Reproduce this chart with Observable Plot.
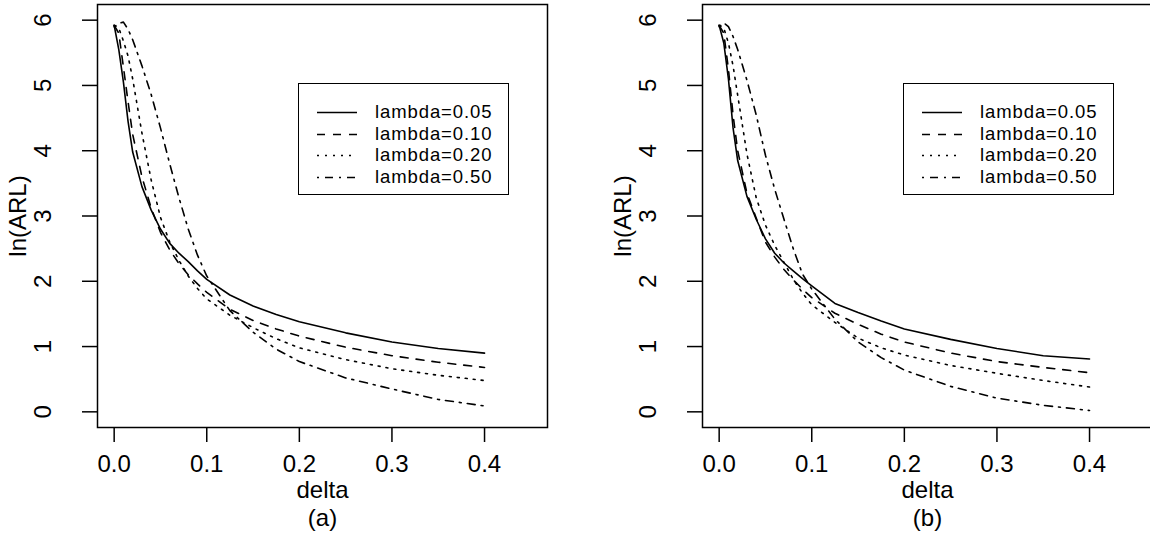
<!DOCTYPE html>
<html>
<head>
<meta charset="utf-8">
<script src="https://cdn.jsdelivr.net/npm/d3@7"></script>
<script src="https://cdn.jsdelivr.net/npm/@observablehq/plot@0.6"></script>
<style>
  html, body { margin: 0; padding: 0; background: #fff; overflow: hidden; }
  #wrap { position: relative; width: 1150px; height: 553px; overflow: hidden; background: #fff;
          font-family: "Liberation Sans", Arial, Helvetica, sans-serif; }
  .panel { position: absolute; top: 0; width: 605px; height: 553px; }
  .legend { position: absolute; box-sizing: border-box; border: 1.5px solid #000; background: #fff;
            width: 211px; height: 112px; padding-top: 17px; }
  .row { position: relative; height: 21.5px; line-height: 21.5px; font-size: 18.5px; letter-spacing: 0.9px; color: #000; }
  .row svg { position: absolute; left: 17px; top: 0; }
  .row span { position: absolute; display: block; left: 76px; top: 0; height: 21.5px; line-height: 21.5px;
              white-space: nowrap; }
</style>
</head>
<body>
<div id="wrap"></div>
<script>
// ---- data ----
const delta = [0, 0.005, 0.01, 0.015, 0.02, 0.03, 0.04, 0.05, 0.06, 0.07, 0.08, 0.09, 0.1, 0.125, 0.15, 0.175, 0.2, 0.25, 0.3, 0.35, 0.4];

const lambdaLabels = ["lambda=0.05", "lambda=0.10", "lambda=0.20", "lambda=0.50"];

// panel (a)
const a_l005 = [5.92, 5.55, 5.05, 4.45, 3.98, 3.45, 3.09, 2.80, 2.58, 2.43, 2.30, 2.16, 2.03, 1.79, 1.62, 1.49, 1.38, 1.21, 1.07, 0.97, 0.90];
const a_l010 = [5.92, 5.80, 5.28, 4.75, 4.25, 3.60, 3.12, 2.75, 2.48, 2.27, 2.10, 1.96, 1.83, 1.57, 1.40, 1.27, 1.16, 0.99, 0.86, 0.76, 0.68];
const a_l020 = [5.92, 5.88, 5.68, 5.45, 5.10, 4.27, 3.55, 2.98, 2.60, 2.32, 2.08, 1.89, 1.73, 1.48, 1.29, 1.12, 0.98, 0.80, 0.66, 0.56, 0.48];
const a_l050 = [5.90, 5.95, 5.97, 5.86, 5.70, 5.30, 4.86, 4.35, 3.80, 3.28, 2.80, 2.40, 2.08, 1.55, 1.22, 0.96, 0.77, 0.52, 0.35, 0.19, 0.09];

// panel (b)
const b_l005 = [5.92, 5.65, 5.10, 4.35, 3.85, 3.30, 2.95, 2.65, 2.43, 2.28, 2.16, 2.04, 1.93, 1.66, 1.52, 1.39, 1.27, 1.11, 0.97, 0.86, 0.81];
const b_l010 = [5.92, 5.80, 5.25, 4.55, 4.00, 3.35, 2.97, 2.60, 2.37, 2.18, 2.02, 1.88, 1.75, 1.51, 1.34, 1.19, 1.07, 0.90, 0.77, 0.68, 0.60];
const b_l020 = [5.92, 5.88, 5.65, 5.30, 4.85, 3.95, 3.28, 2.86, 2.55, 2.29, 2.03, 1.82, 1.64, 1.37, 1.13, 0.98, 0.87, 0.71, 0.59, 0.48, 0.38];
const b_l050 = [5.90, 5.96, 5.90, 5.75, 5.55, 5.08, 4.55, 3.93, 3.41, 2.95, 2.50, 2.11, 1.88, 1.42, 1.07, 0.83, 0.64, 0.39, 0.21, 0.10, 0.02];

const xTicks = [0, 0.1, 0.2, 0.3, 0.4];
const yTicks = [0, 1, 2, 3, 4, 5, 6];
const xLabel = "delta";
const yLabel = "ln(ARL)";
const panelTags = ["(a)", "(b)"];

// ---- styles ----
const dashes = [null, "8,8", "2,6", "2,6,8,6"];
const LW = 1.6;
const FS = 24;
const FONT = "'Liberation Sans', Arial, Helvetica, sans-serif";
const centered = {textAnchor: "middle", lineAnchor: "middle", fontSize: FS, fill: "#000"};

function panel(seriesList, tag) {
  const marks = [
    Plot.frame({stroke: "#000", strokeWidth: 1.5}),
    Plot.axisX({ticks: xTicks, tickSize: 15, tickPadding: 12, fontSize: FS,
                tickFormat: d3.format(".1f"), label: null, strokeWidth: 1.5}),
    Plot.axisY({ticks: yTicks, tickSize: 15, tickFormat: () => "", label: null, strokeWidth: 1.5}),
    Plot.text(yTicks, {y: d => d, text: d => String(d), frameAnchor: "left", dx: -54, rotate: -90, ...centered}),
    Plot.text([yLabel], {text: d => d, frameAnchor: "left", dx: -79, rotate: -90, ...centered}),
    Plot.text([xLabel], {text: d => d, frameAnchor: "bottom", dy: 63, ...centered}),
    Plot.text([tag], {text: d => d, frameAnchor: "bottom", dy: 91, ...centered})
  ];
  seriesList.forEach((vals, i) => {
    const data = delta.map((d, j) => ({delta: d, value: vals[j]}));
    marks.push(Plot.line(data, {x: "delta", y: "value", stroke: "#000", strokeWidth: LW,
                                strokeDasharray: dashes[i] || undefined}));
  });
  return Plot.plot({
    width: 605, height: 553,
    marginLeft: 97, marginRight: 58, marginTop: 4, marginBottom: 126,
    x: {domain: [-0.018, 0.468]},
    y: {domain: [-0.24, 6.24]},
    style: {fontFamily: FONT, background: "#fff", color: "#000", overflow: "visible"},
    marks
  });
}

function legend() {
  const div = document.createElement("div");
  div.className = "legend";
  lambdaLabels.forEach((lab, i) => {
    const row = document.createElement("div");
    row.className = "row";
    const svgNS = "http://www.w3.org/2000/svg";
    const svg = document.createElementNS(svgNS, "svg");
    svg.setAttribute("width", 42); svg.setAttribute("height", 21);
    const ln = document.createElementNS(svgNS, "line");
    ln.setAttribute("x1", 1); ln.setAttribute("x2", 41);
    ln.setAttribute("y1", 11.5); ln.setAttribute("y2", 11.5);
    ln.setAttribute("stroke", "#000"); ln.setAttribute("stroke-width", LW);
    if (dashes[i]) ln.setAttribute("stroke-dasharray", dashes[i]);
    svg.appendChild(ln);
    const sp = document.createElement("span");
    sp.textContent = lab;
    row.appendChild(svg); row.appendChild(sp);
    div.appendChild(row);
  });
  return div;
}

const wrap = document.getElementById("wrap");
[[a_l005, a_l010, a_l020, a_l050], [b_l005, b_l010, b_l020, b_l050]].forEach((s, k) => {
  const p = document.createElement("div");
  p.className = "panel";
  p.style.left = (k * 605) + "px";
  p.appendChild(panel(s, panelTags[k]));
  const lg = legend();
  lg.style.left = "298px";
  lg.style.top = "83px";
  p.appendChild(lg);
  wrap.appendChild(p);
});
</script>
</body>
</html>
